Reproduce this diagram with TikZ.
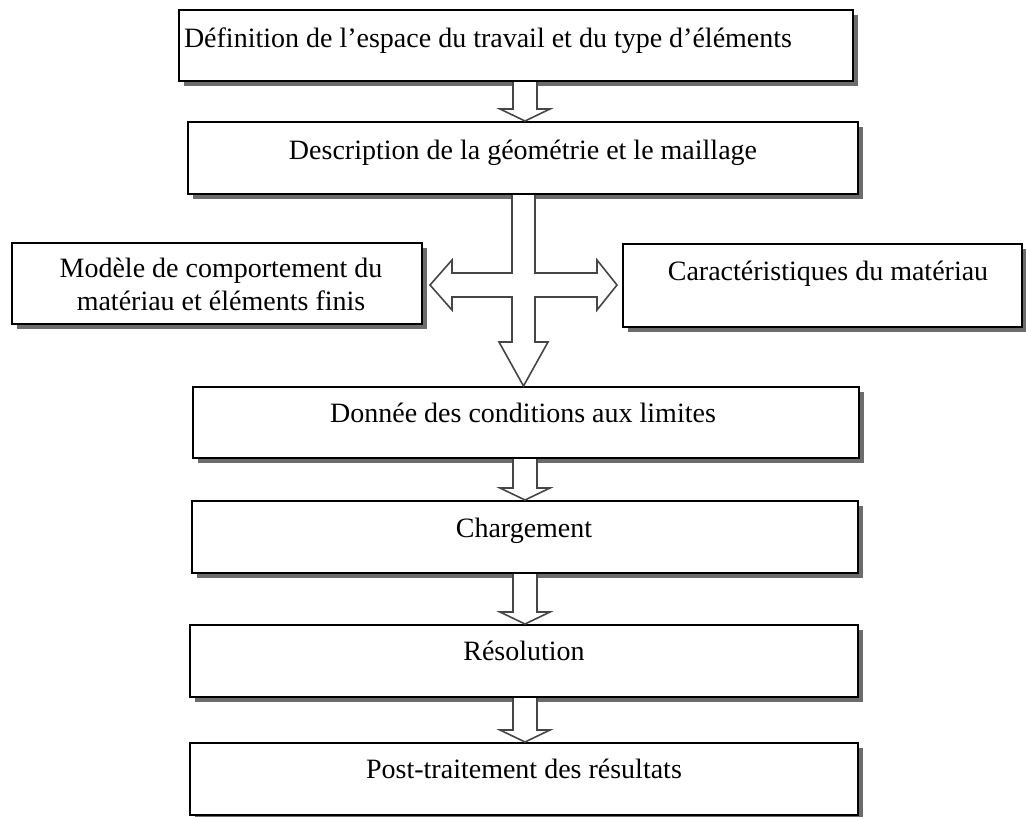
\documentclass[tikz,border=0pt]{standalone}
\usepackage{fontspec}
\setmainfont{Liberation Serif}
\usetikzlibrary{calc,shadows}
\begin{document}
\begin{tikzpicture}[x=1pt,y=-1pt,
  box/.style={draw=black, line width=2pt, fill=white, inner sep=0pt,
    drop shadow={shadow xshift=5pt, shadow yshift=-5pt, fill=gray!85!black, opacity=1}},
  txt/.style={inner sep=0pt, anchor=base, font=\fontsize{28}{33}\selectfont},
  arr/.style={draw=gray!55!black, line width=1.6pt, fill=white, line join=miter}]
\useasboundingbox (0,0) rectangle (1026,817);
% boxes
\node[box, minimum width=674pt, minimum height=71pt] (b1) at (516,45.5) {};
\node[box, minimum width=670pt, minimum height=72pt] (b2) at (523,158) {};
\node[box, minimum width=410pt, minimum height=81pt] (mod) at (217,283.5) {};
\node[box, minimum width=399pt, minimum height=83pt] (car) at (822.5,285.5) {};
\node[box, minimum width=666pt, minimum height=71pt] (b3) at (526,422.5) {};
\node[box, minimum width=666pt, minimum height=72pt] (b4) at (525,537) {};
\node[box, minimum width=668pt, minimum height=72pt] (b5) at (524,661) {};
\node[box, minimum width=668pt, minimum height=72pt] (b6) at (524,779) {};
% texts
\node[txt] (t1) at (488,47) {Définition de l’espace du travail et du type d’éléments};
\node[txt] (t2) at (523,159) {Description de la géométrie et le maillage};
\node[txt] (tmod) at (221,277) {\begin{tabular}[t]{@{}c@{}}Modèle de comportement du\\[0pt]matériau et éléments finis\end{tabular}};
\node[txt] (tcar) at (828,280) {Caractéristiques du matériau};
\node[txt] (t3) at (523,422) {Donnée des conditions aux limites};
\node[txt] (t4) at (524,537) {Chargement};
\node[txt] (t5) at (524,660) {Résolution};
\node[txt] (t6) at (524,778) {Post-traitement des résultats};
% small block arrows
\coordinate (ax) at (525,0);
\newcommand\blockdown[2]{%
  \draw[arr] ($(ax|-#1.south)+(-12,0)$) -- ($(ax|-#2.north)+(-12,-12)$)
    -- ($(ax|-#2.north)+(-25,-12)$) -- (ax|-#2.north)
    -- ($(ax|-#2.north)+(25,-12)$) -- ($(ax|-#2.north)+(12,-12)$)
    -- ($(ax|-#1.south)+(12,0)$);}
\blockdown{b1}{b2}
\blockdown{b3}{b4}
\blockdown{b4}{b5}
\blockdown{b5}{b6}
% cross arrow
\coordinate (c) at (523.5,285);
\draw[arr] ($(c|-b2.south)+(-11.5,0)$) -- ($(c)+(-11.5,-12)$) -- ($(c)+(-71.5,-12)$)
  -- ($(c)+(-71.5,-25)$) -- ($(mod.east|-c)+(7,0)$) -- ($(c)+(-71.5,25)$)
  -- ($(c)+(-71.5,12)$) -- ($(c)+(-11.5,12)$) -- ($(c|-b3.north)+(-11.5,-44)$)
  -- ($(c|-b3.north)+(-24.5,-44)$) -- (c|-b3.north) -- ($(c|-b3.north)+(24.5,-44)$)
  -- ($(c|-b3.north)+(11.5,-44)$) -- ($(c)+(11.5,12)$) -- ($(c)+(73.5,12)$)
  -- ($(c)+(73.5,25)$) -- ($(car.west|-c)+(-5,0)$) -- ($(c)+(73.5,-25)$)
  -- ($(c)+(73.5,-12)$) -- ($(c)+(11.5,-12)$) -- ($(c|-b2.south)+(11.5,0)$);
\end{tikzpicture}
\end{document}
